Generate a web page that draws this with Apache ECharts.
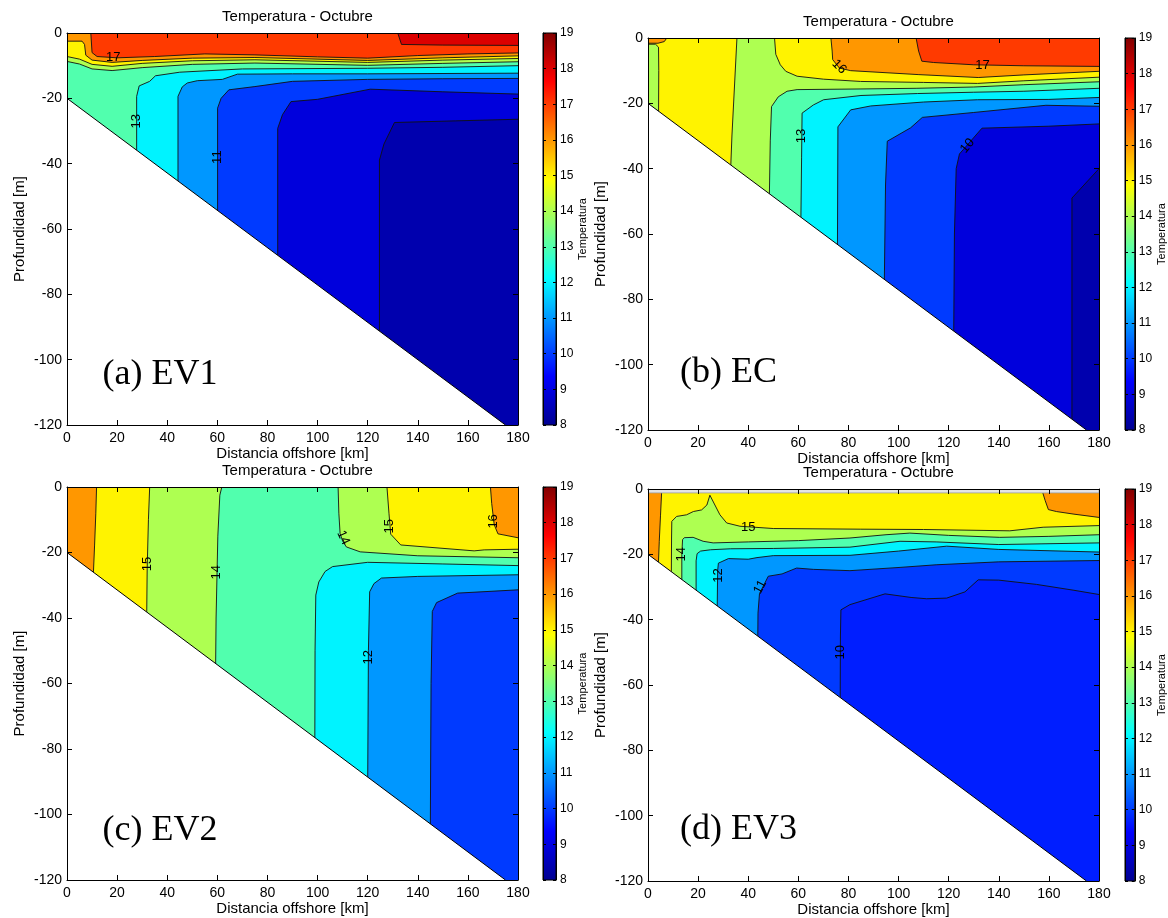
<!DOCTYPE html>
<html><head><meta charset="utf-8">
<script src="https://cdn.jsdelivr.net/npm/echarts/dist/echarts.min.js"></script>
<style>html,body{margin:0;padding:0;background:#fff}#c{width:1168px;height:918px}</style>
</head><body><div id="c"></div>
<script>
// ---------- axes / scale values ----------
const distRange = [0, 180], distStep = 20;
const depthRange = [-120, 0], depthStep = 20;
const tempRange = [8, 19], tempStep = 1;
const titleText = 'Temperatura - Octubre';
const xName = 'Distancia offshore [km]';
const yName = 'Profundidad [m]';
const cbName = 'Temperatura';
const panelNames = ['(a) EV1', '(b) EC', '(c) EV2', '(d) EV3'];
const panelNamePos = [[14.2, -104.5], [12.8, -102.4], [14.2, -104.8], [12.8, -104.2]];
// sea floor (km, m)
const seabed = [[0, -20], [175, -120]];

// ---------- (a) EV1 : contour lines (km, m) ----------
const A_bg = 17;
const A_c18 = [[132,0],[133.5,-3.5],[150,-3.7],[180,-3.8]];
const A_c17 = [[9.5,0],[10,-6],[12,-7.2],[20,-7.6],[35,-7.2],[55,-6.4],[75,-6.7],[100,-7.3],[120,-7.7],[140,-6.9],[160,-6.4],[180,-6.1]];
const A_c16 = [[0,-2.5],[6,-2.5],[7,-3.5],[7.5,-6.8],[10,-8.3],[18,-9.0],[30,-8.4],[50,-7.7],[75,-7.5],[120,-8.4],[150,-7.6],[180,-7.0]];
const A_c15 = [[0,-7.2],[5,-8],[10,-9.6],[18,-10.2],[30,-9.3],[50,-8.5],[75,-8.2],[120,-9.0],[150,-8.3],[180,-7.8]];
const A_c14 = [[0,-8.7],[5,-9.5],[10,-11.0],[18,-11.5],[30,-10.6],[50,-9.6],[75,-9.2],[120,-9.9],[150,-9.3],[180,-8.8]];
const A_c13 = [[27.8,-38],[27.8,-19.4],[28.8,-16.2],[33,-14.8],[35.3,-13.1],[45,-12],[70,-11],[120,-10.8],[150,-10.5],[180,-10.0]];
const A_c12 = [[44.3,-47],[44.3,-19.4],[46,-16.5],[48,-15.3],[52,-14.6],[62,-14.2],[68,-12.6],[90,-12.5],[120,-12.5],[180,-12.3]];
const A_c11 = [[60.1,-56],[60.1,-23],[61.5,-20],[64.6,-17.4],[75,-16.4],[90,-14.8],[120,-14.2],[150,-14.0],[180,-13.9]];
const A_c10 = [[84.1,-70],[84.1,-29.2],[86,-25],[89.4,-21],[100,-20.3],[121,-17.2],[150,-18],[180,-18.7]];
const A_c9  = [[124.7,-93],[124.7,-38.9],[126.5,-34],[130.7,-27.4],[155,-26.9],[180,-26.4]];
const A_regions = [
  {v:18,  lines:[A_c18], close:[[180,0]]},
  {v:16,  lines:[A_c17], close:[[180,-130],[0,-130],[0,0]]},
  {v:15,  lines:[A_c16], close:[[180,-130],[0,-130]]},
  {v:14,  lines:[A_c15], close:[[180,-130],[0,-130]]},
  {v:13,  lines:[A_c14], close:[[180,-130],[0,-130]]},
  {v:12,  lines:[A_c13], close:[[180,-130],[27.8,-130]]},
  {v:11,  lines:[A_c12], close:[[180,-130],[44.3,-130]]},
  {v:10,  lines:[A_c11], close:[[180,-130],[60.1,-130]]},
  {v:9,   lines:[A_c10], close:[[180,-130],[84.1,-130]]},
  {v:8.5, lines:[A_c9],  close:[[180,-130],[124.7,-130]]}
];
const A_labels = [['17',18.5,-7.4,0],['13',27.8,-27,90],['11',60.1,-38,90]];

// ---------- (b) EC ----------
const B_bg = 15;
const B_c16blob = [[0,-1.6],[4,-1.6],[6.5,-1.1],[7.5,0]];
const B_c15strip = [[0,-1.9],[3,-1.9],[4.2,-2.8],[4.3,-10],[4.2,-25]];
const B_c15L = [[33,-40],[33.5,-30],[34.5,-15],[35.5,0]];
const B_c15M = [[50.5,0],[51,-5],[52.8,-8.2],[55,-10.2],[59.5,-11.7],[70,-12.6],[84.8,-13.3],[110,-13.6],[131.5,-13.9],[150,-13.1],[180,-12.0]];
const B_c16 = [[73,0],[73.5,-4],[73.7,-6.6],[76.4,-9.2],[80.9,-10],[107.8,-11.2],[131.8,-12.1],[150,-11.3],[180,-10.2]];
const B_c17 = [[107,0],[108,-4],[109.3,-7.1],[114,-7.5],[130,-8.2],[150,-8.5],[180,-8.7]];
const B_c14 = [[48.4,-50],[48.8,-31.5],[49.3,-21],[52,-18],[55.5,-16.3],[59.5,-15.8],[85,-15.6],[107,-15.4],[130,-15.0],[150,-14.3],[180,-13.4]];
const B_c13 = [[61,-57],[61.3,-36.7],[61.5,-23],[66,-20.5],[70.1,-18.9],[85,-17.6],[107.5,-17.0],[130,-16.6],[150,-16.3],[180,-15.4]];
const B_c12 = [[75.6,-66],[75.8,-27.2],[80.9,-22],[88.9,-20.8],[110,-19.6],[131.5,-18.9],[160,-18.8],[180,-18.2]];
const B_c11 = [[94.3,-76],[94.8,-45],[95.5,-31.6],[104.8,-27.5],[109.5,-24.3],[130,-22.8],[158.8,-20.6],[180,-20.9]];
const B_c10 = [[122,-92],[122.3,-60],[123,-40],[124.3,-35.5],[133.3,-27.6],[160,-27],[180,-26.3]];
const B_c9  = [[169.2,-120],[169.2,-49],[180,-40]];
const B_regions = [
  {v:16,  lines:[B_c16blob], close:[[0,0]]},
  {v:14,  lines:[B_c15strip], close:[[4.2,-130],[0,-130]]},
  {v:14,  lines:[B_c15L, B_c15M], close:[[180,-130],[33,-130]]},
  {v:16,  lines:[B_c16], close:[[180,0]]},
  {v:17,  lines:[B_c17], close:[[180,0]]},
  {v:13,  lines:[B_c14], close:[[180,-130],[48.4,-130]]},
  {v:12,  lines:[B_c13], close:[[180,-130],[61,-130]]},
  {v:11,  lines:[B_c12], close:[[180,-130],[75.6,-130]]},
  {v:10,  lines:[B_c11], close:[[180,-130],[94.3,-130]]},
  {v:9,   lines:[B_c10], close:[[180,-130],[122,-130]]},
  {v:8.5, lines:[B_c9],  close:[[180,-130],[169.2,-130]]}
];
const B_labels = [['16',76.3,-8.8,-45],['17',133.5,-8.4,0],['13',61.4,-30,90],['10',127.5,-33,50]];

// ---------- (c) EV2 ----------
const C_bg = 13;
const C_c14L = [[61.8,0],[61,-2.5],[60.2,-15],[59.5,-40],[59.3,-56]];
const C_c15L = [[33,0],[32.5,-10],[32,-25],[31.8,-40]];
const C_c16L = [[11.8,0],[11.5,-8],[11,-18],[10.5,-27]];
const C_c14R = [[108.2,0],[108.5,-8],[109,-14.2],[110,-16.5],[111.5,-18.3],[117,-19.8],[140,-21],[180,-21.6]];
const C_c15R = [[127.7,0],[128.5,-8],[129.2,-14.4],[133.2,-17.7],[162.5,-19.5],[166.5,-19.2],[180,-19.0]];
const C_c16R = [[169,0],[169.5,-5],[170.5,-11.5],[172,-14.3],[180,-15.5]];
const C_c13 = [[98.9,-80],[99,-50],[99.3,-33],[100.5,-29],[103,-25.8],[106,-24.3],[120,-23],[150,-23.5],[180,-24]];
const C_c12 = [[120,-92],[120.3,-50],[120.8,-32],[122.5,-29.5],[125.5,-27.8],[140,-27.3],[180,-26.8]];
const C_c11 = [[145,-106],[145.3,-60],[145.8,-38],[147.5,-35.3],[155.9,-32.4],[180,-31.4]];
const C_regions = [
  {v:14, lines:[C_c14L], close:[[59.3,-130],[0,-130],[0,0]]},
  {v:15, lines:[C_c15L], close:[[31.8,-130],[0,-130],[0,0]]},
  {v:16, lines:[C_c16L], close:[[10.5,-130],[0,-130],[0,0]]},
  {v:14, lines:[C_c14R], close:[[180,0]]},
  {v:15, lines:[C_c15R], close:[[180,0]]},
  {v:16, lines:[C_c16R], close:[[180,0]]},
  {v:12, lines:[C_c13], close:[[180,-130],[98.9,-130]]},
  {v:11, lines:[C_c12], close:[[180,-130],[120,-130]]},
  {v:10, lines:[C_c11], close:[[180,-130],[145,-130]]}
];
const C_labels = [['15',32.2,-23.5,90],['14',59.8,-26,90],['14',110.3,-15.5,-65],['15',128.6,-12,90],['16',170,-10.5,90],['12',120.4,-52,90]];

// ---------- (d) EV3 ----------
const D_bg = 15;
const D_c16L = [[5.5,0],[5,-8],[4.5,-16],[4.1,-24]];
const D_c16R = [[157.1,0],[158.5,-3.5],[159.8,-6.3],[163,-6.9],[170,-7.7],[180,-8.7]];
const D_c15 = [[9.3,-27],[9.4,-15],[9.5,-9.9],[11.4,-8.4],[15.4,-7.9],[18.1,-6.9],[21.4,-6.4],[23.5,-4.9],[24.7,-1.9],[26.7,-4.9],[28.7,-7.9],[31.4,-10.4],[36.7,-11.4],[50,-12.1],[84.7,-12.3],[110,-12.4],[144.4,-12.8],[157.7,-11.7],[180,-11.2]];
const D_c14 = [[13.5,-30],[13.5,-20],[13.8,-15.5],[14.5,-14.9],[18,-14.8],[22,-16],[26,-16.5],[40,-16.2],[60,-15.8],[80.6,-15.0],[95,-14.0],[104.5,-13.5],[120,-14.2],[140.4,-14.8],[160,-14.5],[180,-14.0]];
const D_c13 = [[19.2,-33],[19.2,-22],[19.6,-19.8],[21,-19.0],[25,-18.6],[33,-18.3],[50,-18.2],[80.6,-17.8],[100.6,-16.0],[115,-16.2],[140,-17],[180,-16.5]];
const D_c12 = [[27.6,-38],[27.8,-25],[28.1,-22.7],[32.1,-21.3],[40,-21.5],[43.5,-21.0],[50,-20.4],[80.6,-20.3],[100,-19],[119.2,-17.5],[140,-18.5],[180,-19.3]];
const D_c11 = [[43.8,-47],[43.9,-38],[44.5,-32],[48,-26.7],[53.5,-26],[59.3,-24.2],[66,-24.6],[80.6,-25.0],[100.6,-24.0],[115,-23.2],[140,-22.3],[180,-21.9]];
const D_c10 = [[76.7,-66],[76.8,-45],[77,-37],[80.6,-35.4],[94.6,-32.1],[105,-33.2],[111.2,-33.6],[119.2,-33.4],[126.5,-31.5],[131.8,-27.8],[140,-27.9],[155,-29.2],[170,-31],[180,-32.3]];
const D_noData = [[0,0],[180,0],[180,-1.2],[0,-1.2]];
const D_regions = [
  {v:16,  lines:[D_c16L], close:[[4.1,-130],[0,-130],[0,0]]},
  {v:16,  lines:[D_c16R], close:[[180,0]]},
  {v:14,  lines:[D_c15], close:[[180,-130],[9.3,-130]]},
  {v:13,  lines:[D_c14], close:[[180,-130],[13.5,-130]]},
  {v:12,  lines:[D_c13], close:[[180,-130],[19.2,-130]]},
  {v:11,  lines:[D_c12], close:[[180,-130],[27.6,-130]]},
  {v:10,  lines:[D_c11], close:[[180,-130],[43.8,-130]]},
  {v:9.7, lines:[D_c10], close:[[180,-130],[76.7,-130]]}
];
const D_labels = [['15',40,-11.8,0],['14',13.5,-20,90],['12',28,-26.5,90],['11',44.8,-30,63],['10',76.8,-50,90]];

// ---------- rendering ----------
const FONT = '"Liberation Sans", Arial, Helvetica, sans-serif';
const SERIF = '"Liberation Serif", "Times New Roman", serif';
function jet(v) {
  const t = (v - tempRange[0]) / (tempRange[1] - tempRange[0]);
  const c = x => Math.round(255 * Math.max(0, Math.min(1, x)));
  return 'rgb(' + c(Math.min(4*t-1.5, -4*t+4.5)) + ',' + c(Math.min(4*t-0.5, -4*t+3.5)) + ',' + c(Math.min(4*t+0.5, -4*t+2.5)) + ')';
}
const jetStops = [
  {offset:0, color:'#800000'}, {offset:0.125, color:'#ff0000'}, {offset:0.375, color:'#ffff00'},
  {offset:0.625, color:'#00ffff'}, {offset:0.875, color:'#0000ff'}, {offset:1, color:'#00008f'}
];

const panels = [
  {bg:A_bg, regions:A_regions, labels:A_labels, mask:null},
  {bg:B_bg, regions:B_regions, labels:B_labels, mask:null},
  {bg:C_bg, regions:C_regions, labels:C_labels, mask:null},
  {bg:D_bg, regions:D_regions, labels:D_labels, mask:D_noData}
];
const plotGrids = [
  {left:67, top:33, width:451, height:392},
  {left:648, top:38, width:451, height:392},
  {left:67, top:487, width:451, height:393},
  {left:648, top:489, width:451, height:392}
];
const cbGrids = [
  {left:543, top:33, width:13, height:392},
  {left:1125, top:38, width:13, height:392},
  {left:543, top:487, width:13, height:393},
  {left:1125, top:489, width:13, height:392}
];

const grid = [], xAxis = [], yAxis = [], series = [], title = [];
const axisLine = {show:true, onZero:false, lineStyle:{color:'#000', width:1}};
const tick = len => ({show:true, inside:true, length:len, lineStyle:{color:'#000', width:1}});
const nameStyle = {color:'#000', fontSize:15, fontFamily:FONT};

plotGrids.forEach((g, i) => {
  grid.push(Object.assign({}, g));
  title.push({text:titleText, left:g.left + g.width/2, top:g.top - 29, textAlign:'center',
    textStyle:{fontSize:15, fontWeight:'normal', fontFamily:FONT, color:'#000'}});
  xAxis.push({gridIndex:i, type:'value', min:distRange[0], max:distRange[1], interval:distStep, position:'bottom', z:10,
    axisLine, axisTick:tick(5), splitLine:{show:false},
    axisLabel:{color:'#000', fontSize:14, fontFamily:FONT, margin:6},
    name:xName, nameLocation:'middle', nameGap:21, nameTextStyle:nameStyle});
  xAxis.push({gridIndex:i, type:'value', min:distRange[0], max:distRange[1], interval:distStep, position:'top', z:10,
    axisLine, axisTick:tick(5), splitLine:{show:false}, axisLabel:{show:false}});
  yAxis.push({gridIndex:i, type:'value', min:depthRange[0], max:depthRange[1], interval:depthStep, position:'left', z:10,
    axisLine, axisTick:tick(5), splitLine:{show:false},
    axisLabel:{color:'#000', fontSize:14, fontFamily:FONT, margin:5},
    name:yName, nameLocation:'middle', nameGap:40, nameTextStyle:nameStyle});
  yAxis.push({gridIndex:i, type:'value', min:depthRange[0], max:depthRange[1], interval:depthStep, position:'right', z:10,
    axisLine, axisTick:tick(5), splitLine:{show:false}, axisLabel:{show:false}});
});
cbGrids.forEach((g, i) => {
  grid.push(Object.assign({}, g));
  xAxis.push({gridIndex:4+i, type:'value', min:0, max:1, show:false});
  yAxis.push({gridIndex:4+i, type:'value', min:tempRange[0], max:tempRange[1], interval:tempStep, position:'left', z:10,
    axisLine, axisTick:tick(3), splitLine:{show:false}, axisLabel:{show:false}});
  yAxis.push({gridIndex:4+i, type:'value', min:tempRange[0], max:tempRange[1], interval:tempStep, position:'right', z:10,
    axisLine, axisTick:tick(3), splitLine:{show:false},
    axisLabel:{color:'#000', fontSize:12, fontFamily:FONT, margin:4},
    name:cbName, nameLocation:'middle', nameGap:17, nameRotate:90,
    nameTextStyle:{color:'#000', fontSize:11, fontFamily:FONT}});
});

panels.forEach((p, i) => {
  const xi = 2*i, yi = 2*i;
  // filled bands (painter order)
  series.push({type:'custom', xAxisIndex:xi, yAxisIndex:yi, clip:true, silent:true, z:1,
    data:[[0,0]].concat(p.regions.map(r => (r.lines[0] || r.close)[0])),
    renderItem:(params, api) => {
      const k = params.dataIndex;
      if (k === 0) {
        const a = api.coord([distRange[0], depthRange[1]]), b = api.coord([distRange[1], depthRange[0]]);
        return {type:'rect', shape:{x:a[0], y:a[1], width:b[0]-a[0], height:b[1]-a[1]}, style:{fill:jet(p.bg)}};
      }
      const r = p.regions[k-1];
      const pts = [].concat(...r.lines).concat(r.close).map(q => api.coord(q));
      return {type:'polygon', shape:{points:pts}, style:{fill:jet(r.v)}};
    }});
  // contour lines
  const allLines = [].concat(...p.regions.map(r => r.lines));
  series.push({type:'custom', xAxisIndex:xi, yAxisIndex:yi, clip:true, silent:true, z:2,
    data:allLines.map(l => l[0]),
    renderItem:(params, api) => ({type:'polyline', shape:{points:allLines[params.dataIndex].map(q => api.coord(q))},
      style:{stroke:'#111', lineWidth:0.9, fill:null}})});
  // sea floor + masks
  series.push({type:'custom', xAxisIndex:xi, yAxisIndex:yi, clip:true, silent:true, z:3,
    data:[seabed[0]],
    renderItem:(params, api) => {
      const s0 = api.coord(seabed[0]), s1 = api.coord(seabed[1]), c = api.coord([distRange[0], depthRange[0]]);
      const children = [
        {type:'polygon', shape:{points:[s0, s1, c]}, style:{fill:'#fff'}},
        {type:'line', shape:{x1:s0[0], y1:s0[1], x2:s1[0], y2:s1[1]}, style:{stroke:'#000', lineWidth:1}}
      ];
      if (p.mask) children.push({type:'polygon', shape:{points:p.mask.map(q => api.coord(q))},
        style:{fill:'#e4e4e4', stroke:'#999', lineWidth:0.8}});
      return {type:'group', children};
    }});
  // contour labels
  series.push({type:'custom', xAxisIndex:xi, yAxisIndex:yi, clip:false, silent:true, z:4,
    data:p.labels.map(l => [l[1], l[2]]),
    renderItem:(params, api) => {
      const l = p.labels[params.dataIndex];
      const pt = api.coord([l[1], l[2]]);
      return {type:'text', x:pt[0], y:pt[1], rotation:l[3]*Math.PI/180,
        style:{text:l[0], fill:'#000', fontSize:13, fontFamily:FONT, align:'center', verticalAlign:'middle'}};
    }});
  // panel name
  series.push({type:'custom', xAxisIndex:xi, yAxisIndex:yi, clip:false, silent:true, z:5,
    data:[panelNamePos[i]],
    renderItem:(params, api) => {
      const pt = api.coord(panelNamePos[i]);
      return {type:'text', x:pt[0], y:pt[1],
        style:{text:panelNames[i], fill:'#000', fontSize:36, fontFamily:SERIF, align:'left', verticalAlign:'middle'}};
    }});
  // colour bar
  series.push({type:'custom', xAxisIndex:8+i, yAxisIndex:8+2*i, clip:false, silent:true, z:1,
    data:[[0, tempRange[0]]],
    renderItem:(params, api) => {
      const a = api.coord([0, tempRange[1]]), b = api.coord([1, tempRange[0]]);
      return {type:'rect', shape:{x:a[0], y:a[1], width:b[0]-a[0], height:b[1]-a[1]},
        style:{fill:new echarts.graphic.LinearGradient(0, 0, 0, 1, jetStops), stroke:'#000', lineWidth:1}};
    }});
});

const chart = echarts.init(document.getElementById('c'));
chart.setOption({animation:false, backgroundColor:'#fff', title, grid, xAxis, yAxis, series});
</script></body></html>
